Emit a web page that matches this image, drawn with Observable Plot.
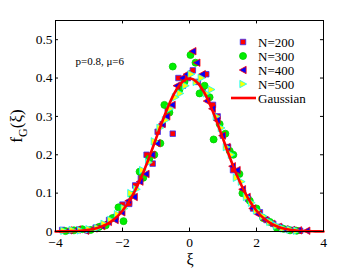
<!DOCTYPE html>
<html>
<head>
<meta charset="utf-8">
<script src="https://cdn.jsdelivr.net/npm/d3@7"></script>
<script src="https://cdn.jsdelivr.net/npm/@observablehq/plot@0.6"></script>
<style>
  html, body { margin: 0; padding: 0; background: #fff; }
  #chart { width: 357px; height: 269px; }
  svg { font-family: "Liberation Serif", "DejaVu Serif", serif; }
</style>
</head>
<body>
<div id="chart"></div>
<script>
// ---- data ----
const xTicks = [-4, -2, 0, 2, 4];
const yTicks = [0, 0.1, 0.2, 0.3, 0.4, 0.5];

const n200X = [-3.8,-3.55,-3.3,-3.05,-2.8,-2.6,-2.4,-2.2,-2.0,-1.8,-1.62,-1.45,-1.28,-1.1,-0.95,-0.8,-0.65,-0.5,-0.33,-0.2,-0.05,0.1,0.25,0.4,0.5,0.7,0.84,1.0,1.15,1.3,1.45,1.6,1.75,1.9,2.1,2.3,2.5,2.7,2.9,3.1,3.3];
const n200Y = [0.004,0.002,0.005,0.003,0.01,0.015,0.03,0.038,0.07,0.072,0.12,0.14,0.2,0.177,0.26,0.28,0.32,0.255,0.40,0.38,0.40,0.42,0.39,0.37,0.41,0.33,0.30,0.25,0.22,0.16,0.15,0.10,0.085,0.06,0.05,0.03,0.02,0.012,0.006,0.004,0.002];

const n300X = [-3.7,-3.45,-3.2,-2.95,-2.7,-2.5,-2.3,-2.12,-1.97,-1.72,-1.49,-1.38,-1.2,-1.05,-0.87,-0.75,-0.6,-0.5,-0.3,-0.15,0.03,0.18,0.3,0.45,0.6,0.72,0.9,1.07,1.2,1.31,1.49,1.58,1.8,2.0,2.2,2.4,2.6,2.8,3.0,3.2];
const n300Y = [0.001,0.003,0.006,0.004,0.012,0.016,0.035,0.063,0.027,0.095,0.156,0.14,0.19,0.2,0.23,0.33,0.31,0.43,0.37,0.39,0.46,0.44,0.36,0.38,0.35,0.24,0.28,0.255,0.21,0.20,0.15,0.10,0.08,0.06,0.035,0.025,0.01,0.007,0.003,0.002];

const n400X = [-3.6,-3.35,-3.1,-2.85,-2.62,-2.42,-2.22,-2.02,-1.82,-1.65,-1.48,-1.3,-1.12,-0.97,-0.82,-0.68,-0.52,-0.38,-0.22,-0.08,0.1,0.22,0.38,0.52,0.68,0.82,0.98,1.12,1.28,1.42,1.58,1.72,1.88,2.05,2.25,2.45,2.65,2.85,3.05,3.25,3.5];
const n400Y = [0.003,0.005,0.002,0.008,0.014,0.025,0.03,0.05,0.08,0.09,0.13,0.15,0.2,0.23,0.28,0.30,0.33,0.38,0.40,0.41,0.47,0.44,0.41,0.34,0.32,0.29,0.25,0.22,0.17,0.16,0.11,0.09,0.06,0.045,0.03,0.02,0.012,0.006,0.004,0.003,0.002];

const n500X = [-3.75,-3.5,-3.25,-3.0,-2.75,-2.55,-2.35,-2.15,-1.95,-1.75,-1.58,-1.4,-1.22,-1.05,-0.88,-0.72,-0.58,-0.42,-0.28,-0.12,0.05,0.2,0.35,0.5,0.65,0.8,0.95,1.1,1.25,1.4,1.55,1.7,1.85,2.0,2.2,2.4,2.6,2.8,3.0,3.2];
const n500Y = [0.002,0.004,0.003,0.006,0.009,0.02,0.03,0.045,0.06,0.10,0.11,0.16,0.18,0.235,0.27,0.29,0.32,0.35,0.36,0.38,0.41,0.39,0.40,0.36,0.37,0.30,0.27,0.22,0.20,0.14,0.13,0.09,0.075,0.055,0.04,0.025,0.015,0.008,0.005,0.002];

const gaussX = [-4,-3.75,-3.5,-3.25,-3,-2.75,-2.5,-2.25,-2,-1.75,-1.5,-1.25,-1,-0.75,-0.5,-0.25,0,0.25,0.5,0.75,1,1.25,1.5,1.75,2,2.25,2.5,2.75,3,3.25,3.5,3.75,4];
const gaussY = [0.0001,0.0004,0.0009,0.0020,0.0044,0.0091,0.0175,0.0317,0.0540,0.0863,0.1295,0.1826,0.2420,0.3011,0.3521,0.3867,0.3989,0.3867,0.3521,0.3011,0.2420,0.1826,0.1295,0.0863,0.0540,0.0317,0.0175,0.0091,0.0044,0.0020,0.0009,0.0004,0.0001];

const seriesNames = ["N=200", "N=300", "N=400", "N=500"];
const annotation = "p=0.8, \u03bc=6";

// ---- build tables ----
const zip = (xs, ys) => xs.map((x, i) => ({x, y: ys[i]}));
const d200 = zip(n200X, n200Y), d300 = zip(n300X, n300Y), d400 = zip(n400X, n400Y), d500 = zip(n500X, n500Y);
const gauss = zip(gaussX, gaussY);

// custom symbols (left / right pointing triangles)
const triLeft = {draw(ctx, size) { const r = Math.sqrt(size / Math.PI); ctx.moveTo(-r, 0); ctx.lineTo(r * 0.85, -r); ctx.lineTo(r * 0.85, r); ctx.closePath(); }};
const triRight = {draw(ctx, size) { const r = Math.sqrt(size / Math.PI); ctx.moveTo(r, 0); ctx.lineTo(-r * 0.85, -r); ctx.lineTo(-r * 0.85, r); ctx.closePath(); }};

const styles = [
  {symbol: "square", fill: "#ff0000", stroke: "#3030ff", r: 3.1},
  {symbol: "circle", fill: "#00ee00", stroke: "#00cc00", r: 3.5},
  {symbol: triLeft, fill: "#0000ff", stroke: "#ff0000", r: 3.7},
  {symbol: triRight, fill: "#ffff00", stroke: "#00ffff", r: 3.7}
];
const datasets = [d200, d300, d400, d500];

const xDom = [-4, 4], yDom = [0, 0.55];

const plot = Plot.plot({
  width: 357, height: 269,
  marginLeft: 55, marginRight: 34, marginTop: 20, marginBottom: 38,
  style: {fontFamily: "'Liberation Serif', serif", fontSize: "14px", background: "#fff", color: "#000"},
  x: {domain: xDom},
  y: {domain: yDom},
  marks: [
    ...datasets.map((d, i) => Plot.dot(d, {x: "x", y: "y", symbol: styles[i].symbol, fill: styles[i].fill, stroke: styles[i].stroke, strokeWidth: 0.8, r: styles[i].r})),
    Plot.line(gauss, {x: "x", y: "y", stroke: "#ff0000", strokeWidth: 2.6, curve: "natural"}),
    Plot.frame({stroke: "#000", strokeWidth: 1}),
    // inward ticks
    Plot.ruleX(xTicks.slice(1, -1), {y1: yDom[0], y2: yDom[0] + 0.009, stroke: "#000"}),
    Plot.ruleX(xTicks.slice(1, -1), {y1: yDom[1], y2: yDom[1] - 0.009, stroke: "#000"}),
    Plot.ruleY(yTicks.slice(1), {x1: xDom[0], x2: xDom[0] + 0.09, stroke: "#000"}),
    Plot.ruleY(yTicks.slice(1), {x1: xDom[1], x2: xDom[1] - 0.09, stroke: "#000"}),
    Plot.axisX({ticks: xTicks, tickSize: 0, tickPadding: 6, label: null, fontSize: 13.5}),
    Plot.axisY({ticks: yTicks, tickSize: 0, tickPadding: 3, label: null, fontSize: 13.5, tickFormat: d => d === 0 ? "0" : d3.format(".1f")(d)}),
    Plot.text([annotation], {frameAnchor: "top-left", dx: 20, dy: 37, text: d => d, fontSize: 11, textAnchor: "start"})
  ]
});
document.getElementById("chart").appendChild(plot);

// axis titles and legend
const svg = d3.select(plot);
const yl = svg.append("text")
  .attr("transform", "translate(22,126) rotate(-90)")
  .attr("text-anchor", "middle")
  .attr("font-size", 17)
  .attr("fill", "#000");
yl.append("tspan").text("f");
yl.append("tspan").attr("font-size", 12).attr("dy", 5).text("G");
yl.append("tspan").attr("dy", -5).text("(\u03be)");

svg.append("text")
  .attr("x", 190).attr("y", 265)
  .attr("text-anchor", "middle")
  .attr("font-size", 16)
  .attr("fill", "#000")
  .text("\u03be");

const leg = svg.append("g").attr("text-anchor", "start");
const legY0 = 42, legDy = 14;
seriesNames.forEach((name, i) => {
  const s = styles[i];
  const type = typeof s.symbol === "string" ? (s.symbol === "square" ? d3.symbolSquare : d3.symbolCircle) : s.symbol;
  leg.append("path")
    .attr("d", d3.symbol(type, Math.PI * s.r * s.r)())
    .attr("transform", `translate(243,${legY0 + i * legDy})`)
    .attr("fill", s.fill).attr("stroke", s.stroke).attr("stroke-width", 0.8);
  leg.append("text").attr("x", 258).attr("y", legY0 + i * legDy).attr("dy", "0.35em")
    .attr("text-anchor", "start")
    .attr("font-size", 13).attr("fill", "#000").text(name);
});
leg.append("line").attr("x1", 231).attr("x2", 256)
  .attr("y1", legY0 + 4 * legDy).attr("y2", legY0 + 4 * legDy)
  .attr("stroke", "#ff0000").attr("stroke-width", 2.6);
leg.append("text").attr("x", 258).attr("y", legY0 + 4 * legDy).attr("dy", "0.35em")
  .attr("text-anchor", "start")
  .attr("font-size", 13).attr("fill", "#000").text("Gaussian");
</script>
</body>
</html>
